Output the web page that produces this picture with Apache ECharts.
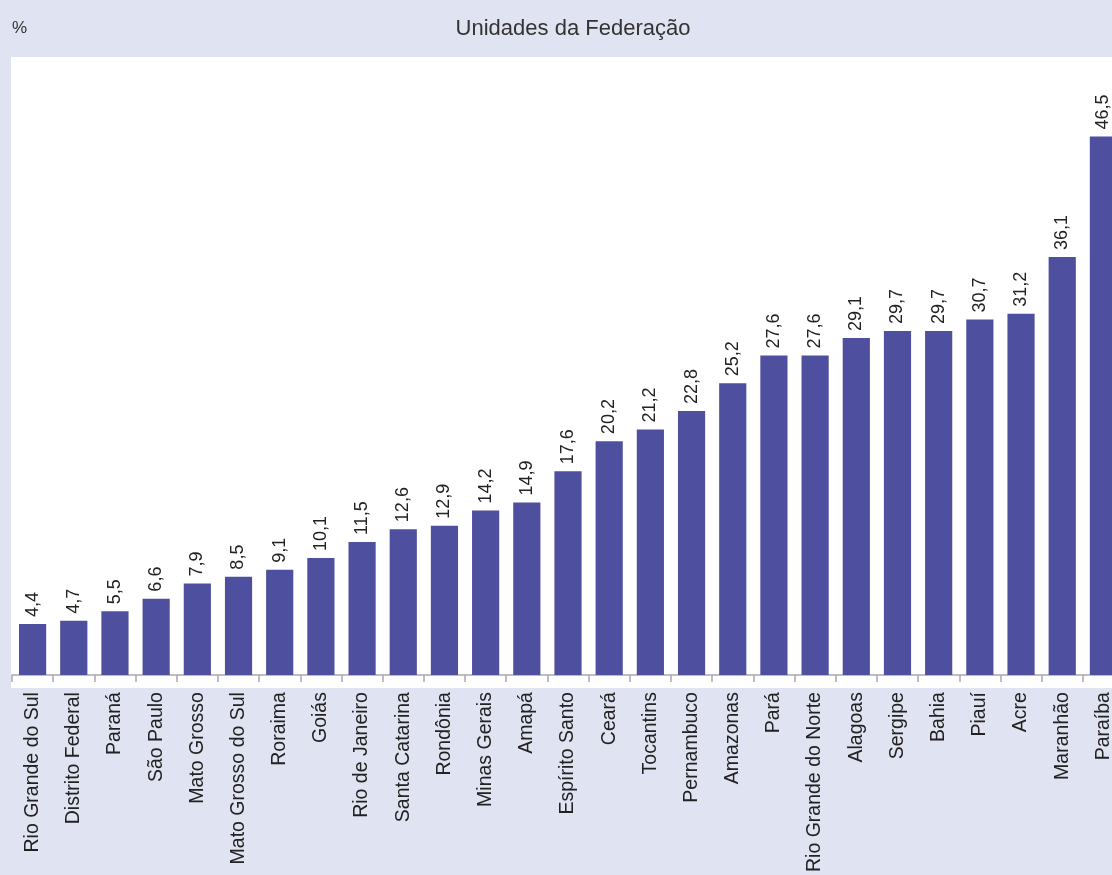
<!DOCTYPE html>
<html>
<head>
<meta charset="utf-8">
<script src="https://cdn.jsdelivr.net/npm/echarts@6/dist/echarts.min.js"></script>
<style>
html,body{margin:0;padding:0;background:#e0e3f1;overflow:hidden;width:1112px;height:875px;}
#chart{width:1125px;height:875px;}
</style>
</head>
<body>
<div id="chart"></div>
<script>
const categories = ["Rio Grande do Sul","Distrito Federal","Paraná","São Paulo","Mato Grosso","Mato Grosso do Sul","Roraima","Goiás","Rio de Janeiro","Santa Catarina","Rondônia","Minas Gerais","Amapá","Espírito Santo","Ceará","Tocantins","Pernambuco","Amazonas","Pará","Rio Grande do Norte","Alagoas","Sergipe","Bahia","Piauí","Acre","Maranhão","Paraíba"];
const values = [4.4,4.7,5.5,6.6,7.9,8.5,9.1,10.1,11.5,12.6,12.9,14.2,14.9,17.6,20.2,21.2,22.8,25.2,27.6,27.6,29.1,29.7,29.7,30.7,31.2,36.1,46.5];
const titleText = "Unidades da Federação";
const unitText = "%";

const chart = echarts.init(document.getElementById('chart'));
const FONT = '"Liberation Sans", Arial, Helvetica, sans-serif';
chart.setOption({
  backgroundColor: '#e0e3f1',
  animation: false,
  graphic: [
    {type:'rect', z:-10, shape:{x:11, y:57, width:1114, height:631}, style:{fill:'#ffffff'}},
    {type:'text', left:12, top:20, style:{text:unitText, font:'17px ' + FONT, fill:'#333333'}}
  ],
  title: {
    text: titleText, left: 568, top: 13, textAlign: 'center',
    textStyle: {fontFamily: FONT, fontSize: 22, fontWeight: 'normal', color: '#333333'}
  },
  grid: {left: 12, right: 1, top: 96, bottom: 199, containLabel: false},
  xAxis: {
    type: 'category', data: categories,
    axisLine: {lineStyle: {color: '#a8a8b0', width: 1.5}},
    axisTick: {show: true, length: 7, inside: false, lineStyle: {color: '#a8a8b0', width: 1.5}},
    axisLabel: {rotate: 90, interval: 0, margin: 17, fontFamily: FONT, fontSize: 19.5, color: '#222222'}
  },
  yAxis: {
    type: 'value', min: 0, max: 50, show: false, splitLine: {show: false}
  },
  series: [{
    type: 'bar', data: values, barCategoryGap: '34%',
    itemStyle: {color: '#4f4f9f'},
    label: {
      show: true, position: 'top', rotate: 90, align: 'left', verticalAlign: 'middle', distance: 7,
      fontFamily: FONT, fontSize: 18, color: '#222222',
      formatter: p => p.value.toFixed(1).replace('.', ',')
    }
  }]
});
</script>
</body>
</html>
